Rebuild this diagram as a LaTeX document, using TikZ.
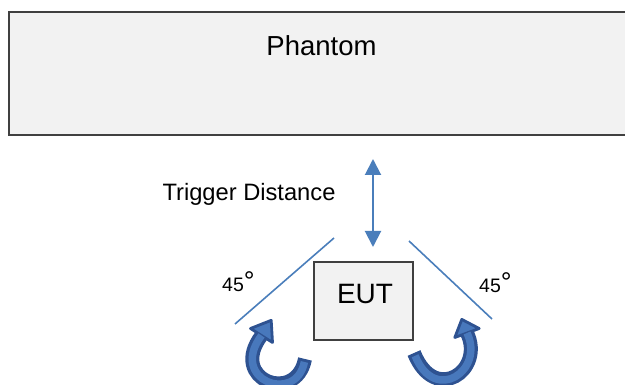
\documentclass[tikz,border=0pt]{standalone}
\usepackage{fontspec}
\setmainfont{Liberation Sans}
\usepackage{tikz}
\usetikzlibrary{arrows.meta}
\definecolor{lineblue}{RGB}{74,126,187}
\definecolor{rotfill}{RGB}{72,120,188}
\definecolor{rotedge}{RGB}{46,82,145}
\definecolor{boxgray}{RGB}{242,242,242}
\definecolor{boxedge}{RGB}{64,64,64}

\begin{document}
\begin{tikzpicture}[x=1pt,y=-1pt,
    box/.style={draw=boxedge,fill=boxgray,line width=1.3pt,inner sep=0pt},
    txt/.style={inner sep=0pt,anchor=base},
    guide/.style={lineblue,line width=1.6pt},
    distarrow/.style={lineblue,line width=2pt,{Triangle[length=16pt,width=16pt]}-{Triangle[length=16pt,width=16pt]}},
    bodyout/.style={rotedge,line width=14pt},
    bodyin/.style={rotfill,line width=7.5pt,shorten <=3pt},
    headtip/.style={draw=rotedge,fill=rotfill,line width=2.8pt,line join=round}]
  \useasboundingbox (0,0) rectangle (625,385);
  \node[box,minimum width=631pt,minimum height=123pt](phantom) at (324.5,73.5){};
  \node[txt](phantomtext) at (321.5,56){\fontsize{27.5}{30}\selectfont Phantom};
  \node[box,minimum width=99pt,minimum height=78pt](eut) at (363.5,301){};
  \node[txt](euttext) at (365,304){\fontsize{28}{30}\selectfont EUT};
  \node[txt](trigger) at (249,201){\fontsize{23.7}{26}\selectfont Trigger Distance};
  \node[txt,anchor=base west](leftangle) at (222,292){\fontsize{19.5}{22}\selectfont 45\raisebox{1.5pt}{\fontsize{27}{27}\selectfont °}};
  \node[txt,anchor=base west](rightangle) at (479,293){\fontsize{19.5}{22}\selectfont 45\raisebox{1.5pt}{\fontsize{27}{27}\selectfont °}};
  \coordinate(dtop) at (373,159);
  \coordinate(dbot) at (373,247);
  \coordinate(la) at (235,324);
  \coordinate(lb) at (334,238);
  \coordinate(ra) at (409,241);
  \coordinate(rb) at (492,319);
  \coordinate(ltail) at (305,359);
  \coordinate(lbase) at (261.5,335.5);
  \coordinate(ltip) at (271.2,320.3);
  \coordinate(lwa) at (272.5,342.5);
  \coordinate(lwb) at (250.5,328.5);
  \coordinate(rtail) at (414,353);
  \coordinate(rbase) at (467,333);
  \coordinate(rtip) at (461.8,319.4);
  \coordinate(rwa) at (479.2,328.5);
  \coordinate(rwb) at (454.8,337.5);
  \draw[distarrow] (dtop)--(dbot);
  \draw[guide] (la)--(lb) (ra)--(rb);
  \draw[bodyout] (ltail) .. controls (296,405) and (228,380) .. (lbase);
  \draw[headtip] (ltip)--(lwa)--(lwb)--cycle;
  \draw[bodyin] (ltail) .. controls (296,405) and (228,380) .. (lbase);
  \draw[bodyout] (rtail) .. controls (435,405) and (485,370) .. (rbase);
  \draw[headtip] (rtip)--(rwa)--(rwb)--cycle;
  \draw[bodyin] (rtail) .. controls (435,405) and (485,370) .. (rbase);
\end{tikzpicture}
\end{document}
